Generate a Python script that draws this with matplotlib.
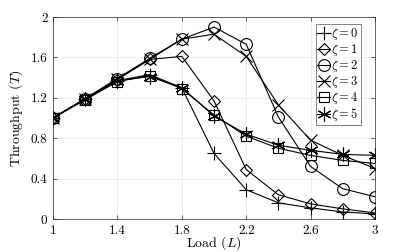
import matplotlib
matplotlib.use("Agg")
import matplotlib.pyplot as plt

plt.rcParams['mathtext.fontset'] = 'cm'
plt.rcParams['font.family'] = ['cmr10', 'DejaVu Serif']
plt.rcParams['axes.formatter.use_mathtext'] = True

load = [1.0, 1.2, 1.4, 1.6, 1.8, 2.0, 2.2, 2.4, 2.6, 2.8, 3.0]
zeta0 = [1.00, 1.19, 1.37, 1.43, 1.30, 0.65, 0.29, 0.16, 0.11, 0.07, 0.05]
zeta1 = [1.00, 1.19, 1.38, 1.58, 1.61, 1.17, 0.49, 0.24, 0.15, 0.10, 0.06]
zeta2 = [1.00, 1.19, 1.39, 1.59, 1.78, 1.90, 1.73, 1.01, 0.52, 0.30, 0.22]
zeta3 = [1.00, 1.19, 1.39, 1.58, 1.78, 1.83, 1.61, 1.13, 0.78, 0.63, 0.50]
zeta4 = [1.00, 1.18, 1.36, 1.42, 1.29, 1.03, 0.82, 0.70, 0.63, 0.58, 0.55]
zeta5 = [1.00, 1.19, 1.37, 1.41, 1.30, 1.02, 0.84, 0.73, 0.68, 0.64, 0.63]
series = [zeta0, zeta1, zeta2, zeta3, zeta4, zeta5]
labels = [r'$\zeta = 0$', r'$\zeta = 1$', r'$\zeta = 2$', r'$\zeta = 3$', r'$\zeta = 4$', r'$\zeta = 5$']
markers = ['+', 'D', 'o', 'x', 's', (6, 2, 0)]
sizes = [10, 6.5, 8.5, 8, 7, 10]

xticks = [1, 1.4, 1.8, 2.2, 2.6, 3]
xticklabels = ['1', '1.4', '1.8', '2.2', '2.6', '3']
yticks = [0, 0.4, 0.8, 1.2, 1.6, 2]
yticklabels = ['0', '0.4', '0.8', '1.2', '1.6', '2']

fig = plt.figure(figsize=(4.15, 2.52), dpi=100)
ax = fig.add_axes([53/415, 1-219/252, (375-53)/415, (219-17)/252])

for y, lab, m, s in zip(series, labels, markers, sizes):
    ax.plot(load, y, color='black', lw=0.8, marker=m, markersize=s,
            fillstyle='none', markeredgewidth=0.8, label=lab)

ax.set_xlim(1, 3)
ax.set_ylim(0, 2)
ax.set_xticks(xticks)
ax.set_xticklabels(xticklabels)
ax.set_yticks(yticks)
ax.set_yticklabels(yticklabels)
ax.tick_params(direction='in', top=True, right=True, labelsize=9.5, length=3,
               color='#262626', width=0.5, pad=4)
ax.grid(True, color='#e6e6e6', lw=0.5)
ax.set_axisbelow(True)
for sp in ax.spines.values():
    sp.set_color('#262626')
    sp.set_linewidth(0.5)

ax.set_xlabel(r'Load $(L)$', fontsize=10, labelpad=-1.5)
ax.set_ylabel(r'Throughput $(T)$', fontsize=10)
ax.yaxis.set_label_coords(-0.087, 0.5)

leg = ax.legend(loc='upper right', bbox_to_anchor=(0.955, 0.965), fontsize=9,
                frameon=True, fancybox=False, edgecolor='#262626',
                handlelength=1.0, handletextpad=0.1, borderpad=0.15,
                labelspacing=0.0, borderaxespad=0)
leg.get_frame().set_linewidth(0.5)

fig.savefig('out.png', dpi=100)
